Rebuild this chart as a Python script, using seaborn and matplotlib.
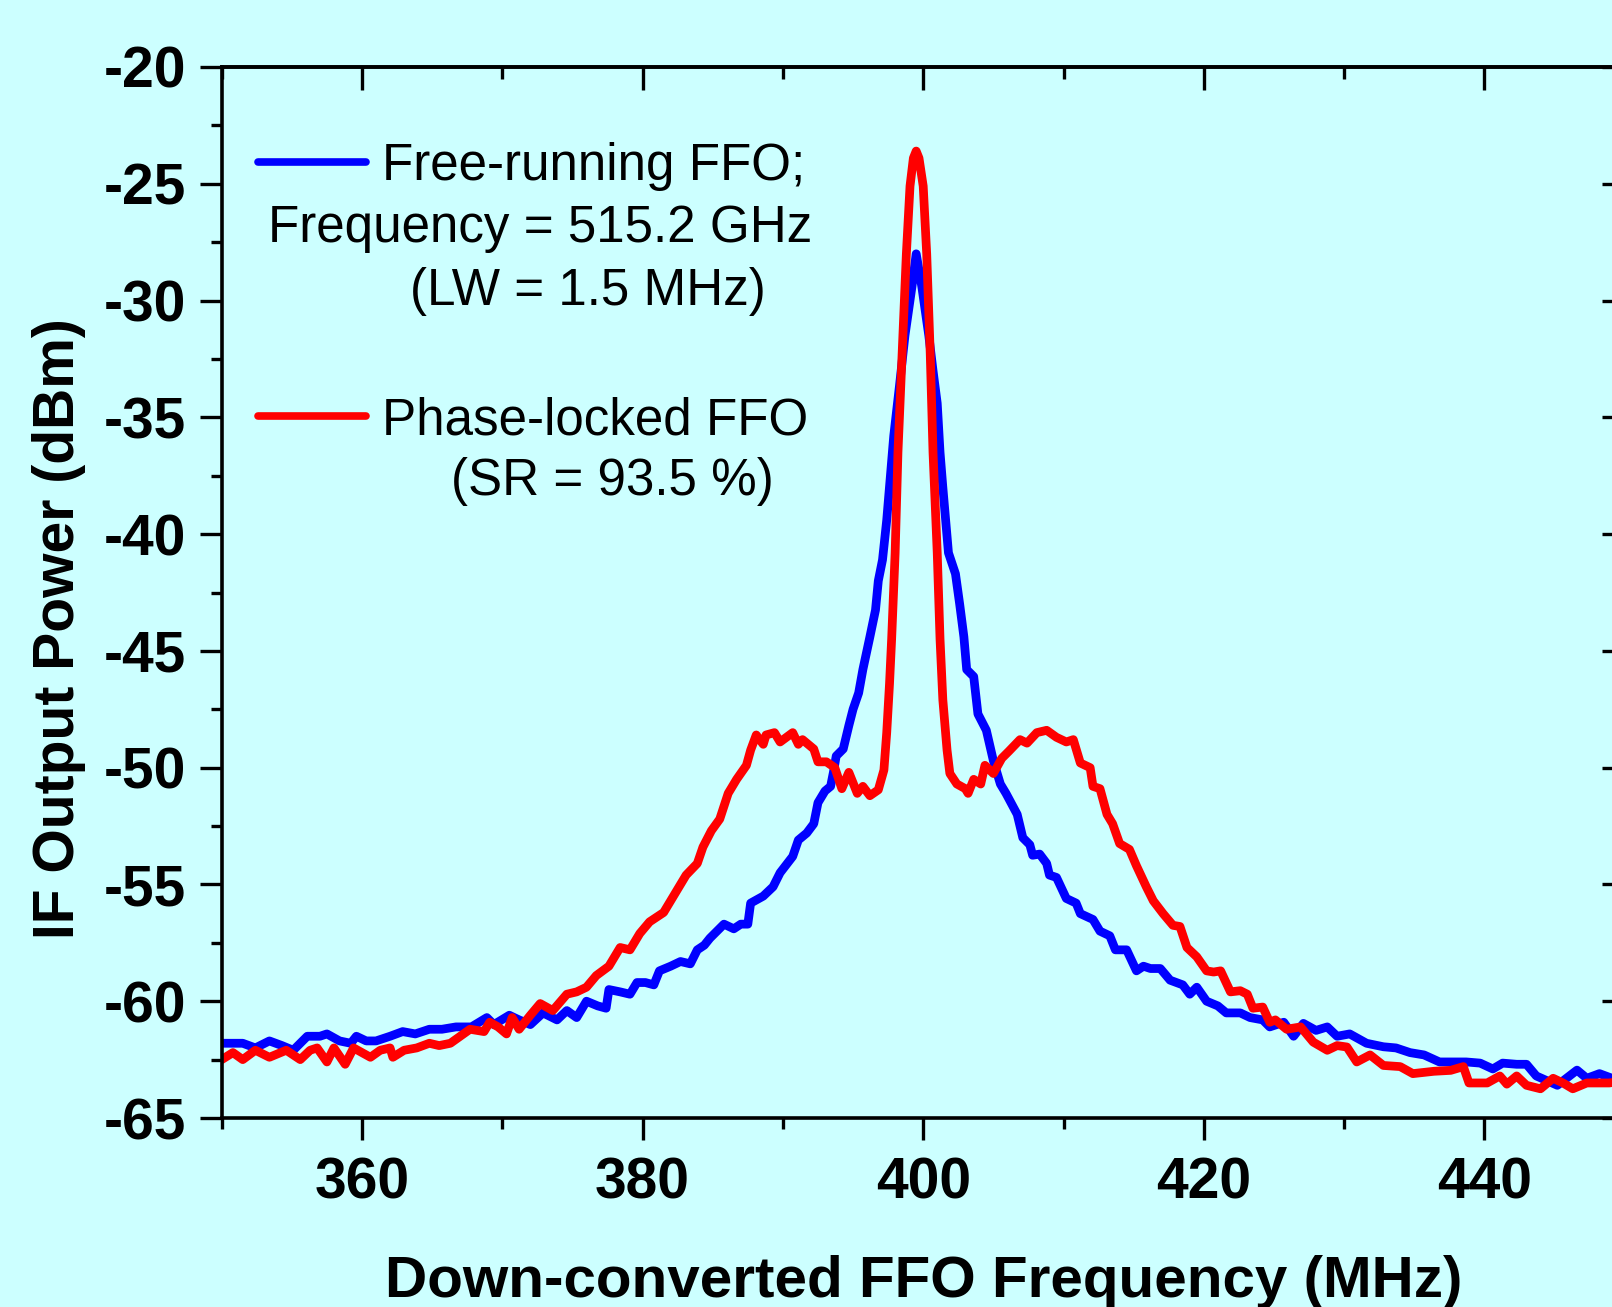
import numpy as np
import pandas as pd
import matplotlib
matplotlib.use("Agg")
import matplotlib.pyplot as plt
import seaborn as sns
from matplotlib.lines import Line2D
from matplotlib.ticker import MultipleLocator, NullFormatter
from matplotlib import font_manager

# Datos (frecuencia en MHz, potencia en dBm)
freq_free = [350.0, 351.5, 352.4, 353.4, 354.3, 355.1, 356.1, 357.0, 357.5, 358.4,
             359.2, 359.6, 360.3, 361.0, 362.0, 362.9, 363.8, 364.8, 365.7, 366.7,
             367.8, 368.9, 369.4, 370.5, 371.2, 372.0, 372.9, 373.9, 374.6, 375.3,
             376.0, 376.8, 377.4, 377.6, 378.4, 379.1, 379.6, 380.2, 380.8, 381.2,
             382.0, 382.7, 383.4, 383.9, 384.4, 384.8, 385.3, 385.8, 386.5, 387.0,
             387.5, 387.7, 388.6, 389.3, 389.8, 390.7, 391.1, 391.7, 392.2, 392.5,
             393.0, 393.4, 393.6, 393.8, 394.3, 394.7, 395.0, 395.4, 395.7, 396.2,
             396.6, 396.8, 397.1, 397.4, 397.7, 397.9, 398.3, 398.7, 399.2, 399.5,
             399.9, 400.4, 400.7, 401.0, 401.2, 401.4, 401.8, 402.3, 402.6, 402.9,
             403.1, 403.6, 403.9, 404.5, 405.0, 405.5, 405.9, 406.7, 407.1, 407.6,
             407.8, 408.3, 408.8, 409.0, 409.5, 410.2, 410.9, 411.2, 412.1, 412.6,
             413.3, 413.7, 414.5, 415.2, 415.7, 416.2, 416.9, 417.6, 418.5, 419.0,
             419.5, 420.2, 421.0, 421.6, 422.6, 423.3, 424.2, 424.7, 425.7, 426.4,
             427.1, 428.0, 428.8, 429.5, 430.4, 431.6, 432.8, 433.7, 434.7, 435.7,
             436.8, 437.8, 438.7, 439.7, 440.6, 441.3, 442.3, 443.0, 443.7, 445.2,
             446.6, 447.3, 448.2, 449.1, 450.0]
power_free = [-61.8, -61.8, -62.0, -61.7, -61.9, -62.1, -61.5, -61.5, -61.4, -61.7,
              -61.8, -61.5, -61.7, -61.7, -61.5, -61.3, -61.4, -61.2, -61.2, -61.1,
              -61.1, -60.7, -61.0, -60.6, -60.8, -61.0, -60.5, -60.8, -60.4, -60.7,
              -60.0, -60.2, -60.3, -59.5, -59.6, -59.7, -59.2, -59.2, -59.3, -58.7,
              -58.5, -58.3, -58.4, -57.8, -57.6, -57.3, -57.0, -56.7, -56.9, -56.7,
              -56.7, -55.8, -55.5, -55.1, -54.5, -53.8, -53.1, -52.8, -52.4, -51.5,
              -51.0, -50.8, -50.2, -49.5, -49.2, -48.2, -47.5, -46.8, -45.8, -44.4,
              -43.25, -42.0, -41.1, -39.4, -37.25, -35.8, -33.7, -31.5, -29.4, -28.0,
              -29.4, -31.5, -33.0, -34.4, -36.5, -38.0, -40.8, -41.7, -43.0, -44.4,
              -45.8, -46.1, -47.7, -48.4, -49.7, -50.7, -51.1, -52.0, -53.0, -53.3,
              -53.75, -53.7, -54.1, -54.6, -54.7, -55.6, -55.8, -56.25, -56.5, -57.0,
              -57.2, -57.8, -57.8, -58.7, -58.5, -58.6, -58.6, -59.1, -59.3, -59.7,
              -59.4, -60.0, -60.2, -60.5, -60.5, -60.7, -60.8, -61.1, -60.9, -61.5,
              -60.95, -61.25, -61.1, -61.5, -61.4, -61.8, -61.95, -62.0, -62.2, -62.3,
              -62.6, -62.6, -62.6, -62.65, -62.9, -62.65, -62.7, -62.7, -63.2, -63.6,
              -62.95, -63.3, -63.1, -63.3, -63.3]

freq_locked = [350.0, 350.8, 351.5, 352.4, 353.4, 354.6, 355.6, 356.3, 356.8, 357.5,
               358.0, 358.8, 359.4, 360.0, 360.6, 361.3, 362.0, 362.2, 363.0, 363.9,
               364.8, 365.5, 366.3, 367.0, 367.7, 368.7, 369.1, 369.7, 370.3, 370.7,
               371.2, 372.0, 372.7, 373.6, 374.6, 375.3, 376.0, 376.7, 377.6, 378.4,
               379.1, 379.8, 380.5, 381.5, 382.4, 383.1, 383.9, 384.3, 384.9, 385.5,
               386.1, 386.7, 387.4, 387.7, 388.1, 388.6, 388.8, 389.4, 389.8, 390.7,
               391.1, 391.4, 392.2, 392.5, 393.1, 393.7, 394.2, 394.7, 395.3, 395.7,
               396.2, 396.8, 397.2, 397.4, 397.6, 397.75, 398.0, 398.2, 398.5, 398.8,
               399.06, 399.3, 399.5, 399.7, 400.0, 400.25, 400.5, 400.7, 401.0, 401.2,
               401.4, 401.7, 401.9, 402.4, 403.0, 403.2, 403.6, 404.1, 404.4, 405.0,
               405.6, 406.1, 406.9, 407.4, 408.1, 408.8, 409.5, 410.2, 410.7, 411.2,
               411.9, 412.1, 412.6, 413.1, 413.5, 414.0, 414.7, 415.2, 415.9, 416.4,
               417.1, 417.8, 418.3, 418.8, 419.5, 420.2, 420.7, 421.2, 421.9, 422.6,
               423.1, 423.5, 424.2, 424.7, 425.1, 425.9, 426.9, 427.8, 428.8, 429.5,
               430.2, 430.9, 431.85, 432.8, 434.0, 434.9, 436.4, 437.6, 438.5, 438.9,
               440.2, 441.1, 441.6, 442.3, 443.0, 444.0, 444.9, 445.6, 446.3, 447.3,
               448.0, 448.9, 450.0]
power_locked = [-62.5, -62.2, -62.5, -62.1, -62.4, -62.1, -62.5, -62.1, -62.0, -62.6,
                -62.0, -62.7, -62.0, -62.2, -62.4, -62.1, -62.0, -62.4, -62.1, -62.0,
                -61.8, -61.9, -61.8, -61.5, -61.2, -61.3, -60.9, -61.1, -61.4, -60.7,
                -61.2, -60.6, -60.1, -60.4, -59.7, -59.6, -59.4, -58.9, -58.5, -57.7,
                -57.8, -57.1, -56.6, -56.2, -55.3, -54.6, -54.1, -53.4, -52.7, -52.2,
                -51.1, -50.5, -49.9, -49.25, -48.6, -49.0, -48.6, -48.5, -48.9, -48.5,
                -49.0, -48.8, -49.2, -49.75, -49.75, -50.0, -50.9, -50.2, -51.1, -50.8,
                -51.2, -50.95, -50.1, -48.5, -46.4, -44.5, -40.8, -36.5, -32.25, -28.0,
                -25.1, -23.9, -23.6, -23.9, -25.1, -28.0, -32.25, -36.5, -40.8, -44.5,
                -47.1, -49.25, -50.25, -50.7, -50.9, -51.1, -50.5, -50.7, -49.9, -50.25,
                -49.6, -49.3, -48.8, -48.95, -48.5, -48.4, -48.7, -48.9, -48.8, -49.8,
                -50.0, -50.8, -50.9, -52.0, -52.4, -53.25, -53.5, -54.2, -55.1, -55.7,
                -56.25, -56.75, -56.8, -57.7, -58.1, -58.7, -58.75, -58.7, -59.6, -59.55,
                -59.7, -60.3, -60.25, -60.9, -60.8, -61.2, -61.1, -61.75, -62.1, -61.9,
                -61.96, -62.6, -62.3, -62.75, -62.8, -63.1, -63.0, -62.96, -62.8, -63.5,
                -63.5, -63.2, -63.55, -63.2, -63.6, -63.75, -63.3, -63.5, -63.75, -63.5,
                -63.5, -63.5, -63.4]

series_labels = ["Free-running FFO;", "Phase-locked FFO"]
extra_lines = ["Frequency = 515.2 GHz", "(LW = 1.5 MHz)", "(SR = 93.5 %)"]

bg = "#CCFFFF"
W, H = 1612, 1307

plt.rcParams["font.family"] = ["Liberation Sans", "DejaVu Sans"]
plt.rcParams["axes.unicode_minus"] = False

names = {f.name for f in font_manager.fontManager.ttflist}
ylab_family = "Liberation Sans Narrow" if "Liberation Sans Narrow" in names else "Liberation Sans"
ylab_size = 49 if ylab_family == "Liberation Sans Narrow" else 41

df_free = pd.DataFrame({"freq": freq_free, "power": power_free})
df_locked = pd.DataFrame({"freq": freq_locked, "power": power_locked})

fig = plt.figure(figsize=(W / 100, H / 100), dpi=100, facecolor=bg)
ax = fig.add_axes([221.7 / W, 189 / H, 1403 / W, 1051 / H])
ax.set_facecolor(bg)

lw = 6.3
sns.lineplot(data=df_free, x="freq", y="power", color="#0000FF", lw=lw, ax=ax,
             estimator=None, sort=False, legend=False,
             solid_joinstyle="round", solid_capstyle="round")
sns.lineplot(data=df_locked, x="freq", y="power", color="#FF0000", lw=lw, ax=ax,
             estimator=None, sort=False, legend=False,
             solid_joinstyle="round", solid_capstyle="round")

ax.set_xlim(350, 450)
ax.set_ylim(-65, -20)

# ejes: marcas hacia fuera abajo/izquierda, hacia dentro arriba/derecha
for s in ax.spines.values():
    s.set_linewidth(2.6)
ax.xaxis.set_major_locator(MultipleLocator(20))
ax.xaxis.set_minor_locator(MultipleLocator(10))
ax.yaxis.set_major_locator(MultipleLocator(5))
ax.yaxis.set_minor_locator(MultipleLocator(2.5))
ax.tick_params(which="major", direction="out", length=15.8, width=2.4)
ax.tick_params(which="minor", direction="out", length=7.9, width=2.4)
ax.tick_params(axis="x", which="major", pad=12)
ax.tick_params(axis="y", which="major", pad=10)
for lab in ax.get_xticklabels() + ax.get_yticklabels():
    lab.set_fontsize(41)
    lab.set_fontweight("bold")

top = ax.secondary_xaxis("top")
top.xaxis.set_major_locator(MultipleLocator(20))
top.xaxis.set_minor_locator(MultipleLocator(10))
top.xaxis.set_major_formatter(NullFormatter())
top.tick_params(which="major", direction="in", length=16.5, width=2.4)
top.tick_params(which="minor", direction="in", length=8.5, width=2.4)
top.spines["top"].set_linewidth(2.6)

right = ax.secondary_yaxis("right")
right.yaxis.set_major_locator(MultipleLocator(5))
right.yaxis.set_minor_locator(MultipleLocator(2.5))
right.yaxis.set_major_formatter(NullFormatter())
right.tick_params(which="major", direction="in", length=16.5, width=2.4)
right.tick_params(which="minor", direction="in", length=8.5, width=2.4)
right.spines["right"].set_linewidth(2.6)

ax.set_xlabel("Down-converted FFO Frequency (MHz)", fontsize=42, fontweight="bold")
ax.xaxis.set_label_coords(0.5, -0.130)
ax.set_ylabel("IF Output Power (dBm)", fontsize=ylab_size, fontweight="bold",
              family=[ylab_family, "DejaVu Sans"], va="baseline")
ax.yaxis.set_label_coords((74 - 221.7) / 1403, (1118 - 629) / 1051)

# leyenda
fs = 36.8
h_free = Line2D([], [], color="#0000FF", lw=5.5, solid_capstyle="round")
h_locked = Line2D([], [], color="#FF0000", lw=5.5, solid_capstyle="round")
leg_kw = dict(frameon=False, fontsize=fs, handlelength=2.12, handletextpad=0.3,
              borderpad=0, borderaxespad=0, loc="upper left",
              bbox_transform=fig.transFigure)
leg1 = ax.legend([h_free], [series_labels[0]], bbox_to_anchor=(258 / W, 1 - 142 / H), **leg_kw)
ax.add_artist(leg1)
leg2 = ax.legend([h_locked], [series_labels[1]], bbox_to_anchor=(258 / W, 1 - 396 / H), **leg_kw)

txt_kw = dict(fontsize=fs, ha="left", va="baseline", transform=fig.transFigure)
fig.text(268 / W, 1 - 242 / H, extra_lines[0], **txt_kw)
fig.text(410 / W, 1 - 305 / H, extra_lines[1], **txt_kw)
fig.text(451 / W, 1 - 495 / H, extra_lines[2], **txt_kw)

fig.savefig("out.png", dpi=100, facecolor=bg)
